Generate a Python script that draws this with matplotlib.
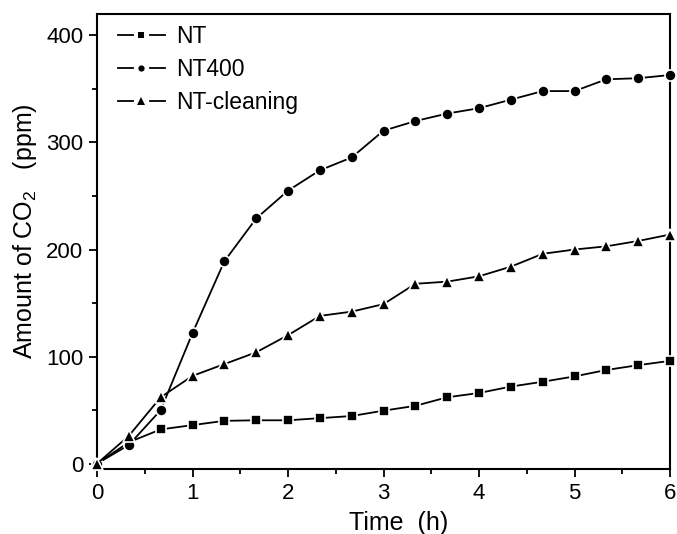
import matplotlib
matplotlib.use("Agg")
import matplotlib.pyplot as plt
from matplotlib.ticker import MultipleLocator
from matplotlib.legend_handler import HandlerBase
from matplotlib.lines import Line2D

plt.rcParams['font.family'] = ['Liberation Sans', 'DejaVu Sans']
plt.rcParams['mathtext.fontset'] = 'custom'
plt.rcParams['mathtext.rm'] = 'Liberation Sans'

time_h = [0, 1/3, 2/3, 1, 4/3, 5/3, 2, 7/3, 8/3, 3, 10/3, 11/3, 4, 13/3, 14/3, 5, 16/3, 17/3, 6]
nt = [0, 20, 32, 36, 40, 40.5, 40.5, 42.5, 44.5, 49.5, 54, 62, 66, 72, 76.5, 81.5, 87.5, 92, 96]
nt400 = [0, 17.5, 50, 122, 189, 229, 255, 274, 286, 311, 320, 327, 332, 340, 348, 348, 359, 360, 363]
nt_cleaning = [0, 26, 62, 82, 93, 104, 120, 138, 142, 149, 168, 170, 175, 184, 196, 200, 203, 208, 214]

labels = ['NT', 'NT400', 'NT-cleaning']
markers = ['s', 'o', '^']
msizes = [7, 8, 8.5]


class HandlerGapLine(HandlerBase):
    def create_artists(self, legend, orig_handle, xdescent, ydescent, width, height, fontsize, trans):
        y = height / 2 - ydescent
        x0 = -xdescent
        seg = 0.32 * width
        l1 = Line2D([x0, x0 + seg], [y, y], color='black', lw=1.3)
        l2 = Line2D([x0 + width - seg, x0 + width], [y, y], color='black', lw=1.3)
        m = orig_handle.get_marker()
        mk = Line2D([x0 + width / 2], [y], ls='none', marker=m, color='black',
                    markersize=4.5 if m != '^' else 5.5, markeredgewidth=0)
        for a in (l1, l2, mk):
            a.set_transform(trans)
        return [l1, l2, mk]


fig = plt.figure(figsize=(6.77, 5.34), dpi=100)
ax = fig.add_axes([0.1433, 0.1217, 0.8464, 0.8521])

for ys, lab, m, ms in zip([nt, nt400, nt_cleaning], labels, markers, msizes):
    ax.plot(time_h, ys, color='black', lw=1.3, marker=m, markersize=ms,
            markerfacecolor='black', markeredgecolor='white', markeredgewidth=1.2,
            label=lab, clip_on=False, zorder=3)

ax.set_xlim(0, 6)
ax.set_ylim(-5, 420)
ax.xaxis.set_major_locator(MultipleLocator(1))
ax.xaxis.set_minor_locator(MultipleLocator(0.5))
ax.yaxis.set_major_locator(MultipleLocator(100))
ax.yaxis.set_minor_locator(MultipleLocator(50))
ax.tick_params(which='both', direction='out', top=False, right=False, labelsize=16, width=1.3)
ax.tick_params(which='major', length=6, pad=4)
ax.tick_params(which='minor', length=3.5)
for s in ax.spines.values():
    s.set_linewidth(1.5)

ax.set_xlabel('Time  (h)', fontsize=18)
ax.set_ylabel('Amount of CO$_2$   (ppm)', fontsize=18)
ax.xaxis.set_label_coords(0.527, -0.092)
ax.yaxis.set_label_coords(-0.102, 0.522)

handles, labs = ax.get_legend_handles_labels()
ax.legend(handles, labs, loc='upper left', bbox_to_anchor=(0.0244, 0.990), frameon=False,
          fontsize=16.5, handlelength=2.05, handletextpad=0.5, labelspacing=0.43,
          borderaxespad=0, borderpad=0.3,
          handler_map={Line2D: HandlerGapLine()})

fig.savefig('out.png', dpi=100)
